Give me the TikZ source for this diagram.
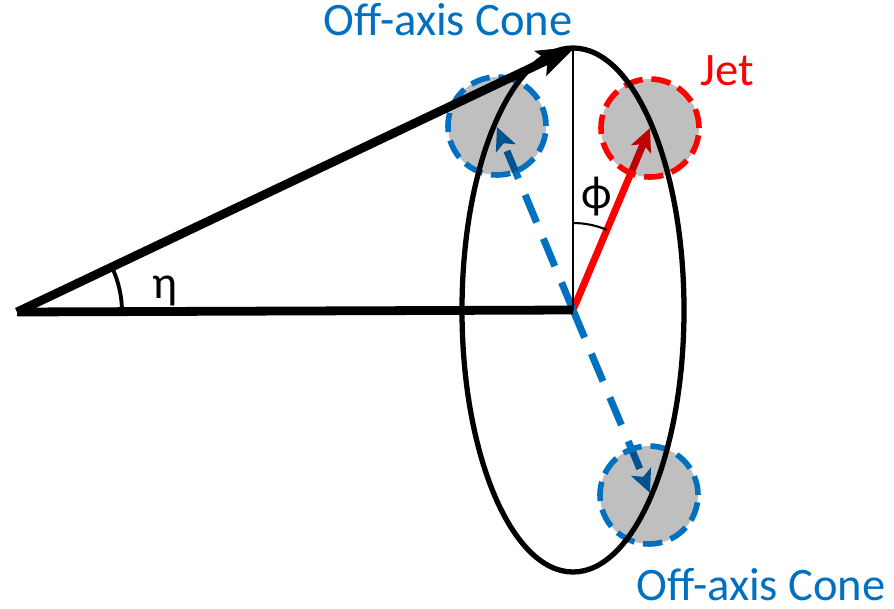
\documentclass[tikz,border=0pt]{standalone}
\usepackage{fontspec}
\setmainfont{Carlito}
\usetikzlibrary{positioning, calc, arrows.meta}
\definecolor{conecolor}{HTML}{0070C0}
\definecolor{jetcolor}{HTML}{FF0000}

\begin{document}
\begin{tikzpicture}[
    x=0.02cm, y=-0.02cm,
    font=\fontsize{26.5}{32}\selectfont,
    cone/.style={circle, minimum size=98*0.02cm, inner sep=0pt, line width=3.2pt, dash pattern=on 11pt off 5pt, fill=black, fill opacity=0.25, draw opacity=1},
    vec/.style={line width=4pt, -{Stealth[length=13pt, width=12pt, inset=3pt]}},
    main/.style={line width=5pt, miter limit=20},
    label/.style={anchor=base, inner sep=0pt}
]
    \useasboundingbox (0,0) rectangle (894,609);

    % =========================================================================
    % POINTS
    % =========================================================================
    \coordinate (vertex) at (17,312);
    \coordinate (centre) at (573,310);
    \coordinate (top) at (573,48);

    % =========================================================================
    % JET AND CONE VECTORS
    % =========================================================================
    \coordinate (jet_pt) at (650,128);
    \coordinate (cone_up_pt) at (497,127);
    \coordinate (cone_down_pt) at (650,493);

    \draw [vec, draw=jetcolor] (centre) -- (jet_pt);
    \draw [vec, draw=conecolor, dash pattern=on 17pt off 10pt] (centre) -- (cone_up_pt);
    \draw [vec, draw=conecolor, dash pattern=on 17pt off 10pt] (centre) -- (cone_down_pt);

    % Cones
    \node (jet) [cone, draw=jetcolor] at (650,128) {};
    \node (cone_up) [cone, draw=conecolor] at (497,126) {};
    \node (cone_down) [cone, draw=conecolor] at (649,495) {};

    % =========================================================================
    % ELLIPSE AND AXES
    % =========================================================================
    \draw [line width=3pt] (centre) ellipse [x radius=111, y radius=262];
    \draw [line width=1pt] (top) -- (centre);
    \draw [main] (centre) -- (vertex);
    \draw [main, -{Stealth[length=22pt, width=15pt, inset=4pt]}, shorten >=-2pt] (vertex) -- (top);

    % Angles
    \draw [line width=2.2pt] ($(vertex)+(105,0)$) arc [start angle=0, end angle=-25.4, radius=105];
    \draw [line width=1.2pt] ($(centre)+(0,-87)$) arc [start angle=-90, end angle=-67.1, radius=87];

    % =========================================================================
    % LABELS
    % =========================================================================
    \node (eta_lbl) [label] at (165,298) {η};
    \node (phi_lbl) [inner sep=0pt] at (597,197) {ϕ};
    \node (jet_lbl) [label, text=jetcolor] at (727,85) {Jet};
    \node (cone_up_lbl) [label, text=conecolor] at (448,35) {Off-axis Cone};
    \node (cone_down_lbl) [label, text=conecolor] at (761,600) {Off-axis Cone};

\end{tikzpicture}
\end{document}
